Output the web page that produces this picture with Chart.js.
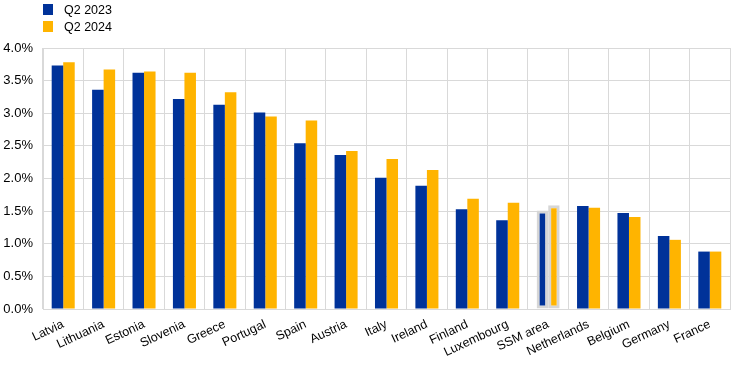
<!DOCTYPE html>
<html lang="en">
<head>
    <meta charset="UTF-8">
    <title>Q2 2023 vs Q2 2024</title>
    <script src="https://cdn.jsdelivr.net/npm/chart.js"></script>
    <style>
        body {
            margin: 0;
            background-color: #ffffff;
            font-family: Arial, 'Liberation Sans', sans-serif;
        }
        .wrap {
            position: relative;
            width: 747px;
            height: 367px;
        }
        #legend {
            position: absolute;
            left: 43px;
            top: 1px;
            font-size: 12.5px;
            color: #000;
        }
        #legend .item {
            display: flex;
            align-items: center;
            height: 17px;
        }
        #legend .box {
            width: 10px;
            height: 11px;
            margin-right: 11px;
        }
    </style>
</head>
<body>

    <div class="wrap">
        <canvas id="myChart" width="747" height="367"></canvas>
        <div id="legend"></div>
    </div>

    <script>
        // Data
        const categories = ['Latvia', 'Lithuania', 'Estonia', 'Slovenia', 'Greece', 'Portugal', 'Spain',
            'Austria', 'Italy', 'Ireland', 'Finland', 'Luxembourg', 'SSM area', 'Netherlands',
            'Belgium', 'Germany', 'France'];
        const q2_2023 = [3.73, 3.36, 3.62, 3.22, 3.13, 3.01, 2.54, 2.36, 2.01, 1.89, 1.53, 1.36, 1.51, 1.58, 1.47, 1.12, 0.88];
        const q2_2024 = [3.78, 3.67, 3.64, 3.62, 3.32, 2.95, 2.89, 2.42, 2.30, 2.13, 1.69, 1.63, 1.59, 1.55, 1.41, 1.06, 0.88];
        const seriesLabels = ['Q2 2023', 'Q2 2024'];
        const seriesColors = ['#003299', '#ffb400'];
        const highlighted = 'SSM area';

        // SSM area gets a grey frame round its bars
        const borderColors = categories.map(c => c === highlighted ? '#d6d6d6' : 'rgba(0,0,0,0)');
        const borderWidths = categories.map(c => c === highlighted ? 3 : 0);

        const datasets = [q2_2023, q2_2024].map((values, i) => ({
            label: seriesLabels[i],
            data: values,
            backgroundColor: seriesColors[i],
            borderColor: borderColors,
            borderWidth: borderWidths,
            borderSkipped: false,
            categoryPercentage: 0.57,
            barPercentage: 1.0
        }));

        // legend
        const legend = document.getElementById('legend');
        datasets.forEach(ds => {
            const item = document.createElement('div');
            item.className = 'item';
            item.innerHTML = `<span class="box" style="background:${ds.backgroundColor}"></span><span>${ds.label}</span>`;
            legend.appendChild(item);
        });

        const ctx = document.getElementById('myChart').getContext('2d');
        new Chart(ctx, {
            type: 'bar',
            data: {
                labels: categories,
                datasets: datasets
            },
            options: {
                responsive: false,
                animation: false,
                layout: {
                    padding: { top: 48, right: 17, left: 3, bottom: 0 }
                },
                plugins: {
                    legend: { display: false },
                    tooltip: { enabled: false }
                },
                scales: {
                    x: {
                        grid: {
                            color: '#d9d9d9',
                            drawTicks: false
                        },
                        border: { color: '#d9d9d9' },
                        ticks: {
                            color: '#000',
                            font: { family: 'Arial, Liberation Sans', size: 12.5 },
                            minRotation: 25,
                            maxRotation: 25,
                            padding: 8,
                            autoSkip: false
                        },
                        // rotated labels may hang past the plot edge, keep the plot where it is
                        afterFit: scale => {
                            scale.paddingLeft = 0;
                            scale.paddingRight = 0;
                            scale.height = 58;
                        }
                    },
                    y: {
                        min: 0,
                        max: 4,
                        grid: {
                            color: '#d9d9d9',
                            drawTicks: false
                        },
                        border: { color: '#d9d9d9' },
                        ticks: {
                            stepSize: 0.5,
                            color: '#000',
                            padding: 10,
                            font: { family: 'Arial, Liberation Sans', size: 13 },
                            callback: v => v.toFixed(1) + '%'
                        },
                        afterFit: scale => {
                            scale.width = 40;
                        }
                    }
                }
            }
        });
    </script>

</body>
</html>
